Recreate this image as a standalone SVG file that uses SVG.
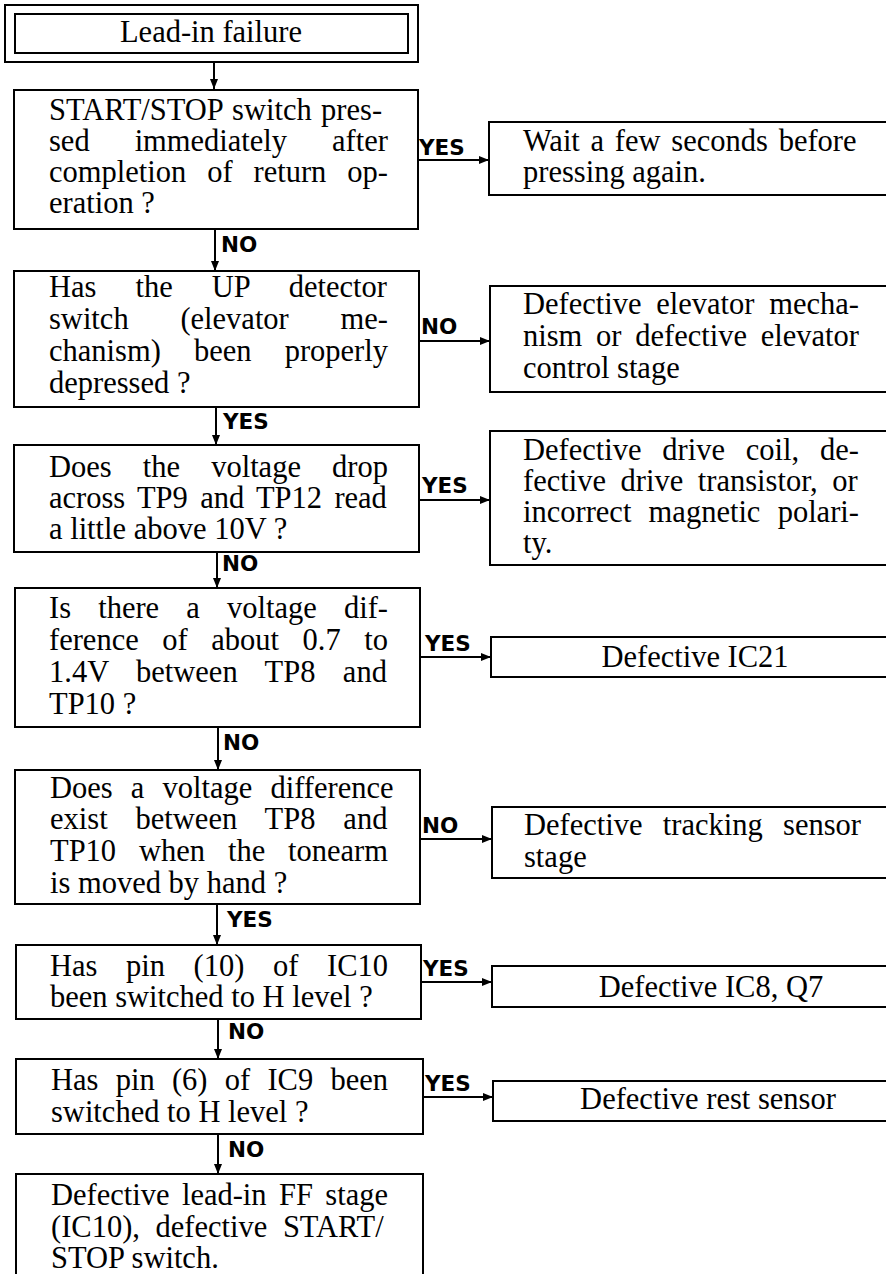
<svg xmlns="http://www.w3.org/2000/svg" width="886" height="1274" viewBox="0 0 886 1274">
<style>
.box{fill:#fff;stroke:#000;stroke-width:2}
.t{font-family:"Liberation Serif","Times New Roman",serif;font-size:30.5px;fill:#000}
.m{text-anchor:middle}
.lbl{font-family:"DejaVu Sans","Liberation Sans",sans-serif;font-weight:bold;font-size:21.5px;fill:#000}
.c{fill:none;stroke:#000;stroke-width:2}
</style>
<defs>
<marker id="ah" viewBox="0 0 10 8" refX="10" refY="4" markerWidth="10" markerHeight="8" markerUnits="userSpaceOnUse" orient="auto">
<path d="M0,0 L10,4 L0,8 z" fill="#000"/>
</marker>
</defs>
<rect width="886" height="1274" fill="#fff"/>

<g id="connectors">
<line class="c" x1="214" y1="62" x2="214" y2="89" marker-end="url(#ah)"/>
<line class="c" x1="418" y1="160" x2="489" y2="160" marker-end="url(#ah)"/>
<line class="c" x1="215" y1="229" x2="215" y2="271" marker-end="url(#ah)"/>
<line class="c" x1="419" y1="341" x2="490" y2="341" marker-end="url(#ah)"/>
<line class="c" x1="216" y1="407" x2="216" y2="445" marker-end="url(#ah)"/>
<line class="c" x1="419" y1="500" x2="490" y2="500" marker-end="url(#ah)"/>
<line class="c" x1="217" y1="552" x2="217" y2="588" marker-end="url(#ah)"/>
<line class="c" x1="420" y1="657" x2="491" y2="657" marker-end="url(#ah)"/>
<line class="c" x1="218" y1="727" x2="218" y2="770" marker-end="url(#ah)"/>
<line class="c" x1="420" y1="839" x2="492" y2="839" marker-end="url(#ah)"/>
<line class="c" x1="217" y1="904" x2="217" y2="945" marker-end="url(#ah)"/>
<line class="c" x1="421" y1="982" x2="492" y2="982" marker-end="url(#ah)"/>
<line class="c" x1="218" y1="1019" x2="218" y2="1059" marker-end="url(#ah)"/>
<line class="c" x1="423" y1="1097" x2="493" y2="1097" marker-end="url(#ah)"/>
<line class="c" x1="218" y1="1134" x2="218" y2="1174" marker-end="url(#ah)"/>
<text class="lbl" x="419" y="155">YES</text>
<text class="lbl" x="221" y="252">NO</text>
<text class="lbl" x="421" y="334">NO</text>
<text class="lbl" x="223" y="429">YES</text>
<text class="lbl" x="422" y="493">YES</text>
<text class="lbl" x="222" y="571">NO</text>
<text class="lbl" x="425" y="651">YES</text>
<text class="lbl" x="223" y="750">NO</text>
<text class="lbl" x="422" y="833">NO</text>
<text class="lbl" x="227" y="927">YES</text>
<text class="lbl" x="423" y="976">YES</text>
<text class="lbl" x="228" y="1039">NO</text>
<text class="lbl" x="425" y="1091">YES</text>
<text class="lbl" x="228" y="1157">NO</text>
</g>

<g id="start">
<rect class="box" x="5" y="5" width="413" height="57"/>
<rect class="box" x="15" y="14" width="393" height="39"/>
<text class="t m" x="211" y="42">Lead-in failure</text>
</g>

<g id="q1">
<rect class="box" x="14" y="90" width="404" height="139"/>
<text class="t" x="49" y="120" style="word-spacing:1.75px">START/STOP switch pres-</text>
<text class="t" x="49" y="151" style="word-spacing:37.36px">sed immediately after</text>
<text class="t" x="49" y="182" style="word-spacing:13.33px">completion of return op-</text>
<text class="t" x="49" y="213">eration ?</text>
</g>

<g id="r1">
<rect class="box" x="489" y="122" width="420" height="73"/>
<text class="t" x="523" y="151" style="word-spacing:3.12px">Wait a few seconds before</text>
<text class="t" x="523" y="182">pressing again.</text>
</g>

<g id="q2">
<rect class="box" x="14" y="271" width="405" height="136"/>
<text class="t" x="49" y="297" style="word-spacing:31.4px">Has the UP detector</text>
<text class="t" x="49" y="329" style="word-spacing:44.14px">switch (elevator me-</text>
<text class="t" x="49" y="361" style="word-spacing:25.51px">chanism) been properly</text>
<text class="t" x="49" y="393">depressed ?</text>
</g>

<g id="r2">
<rect class="box" x="490" y="286" width="420" height="106"/>
<text class="t" x="523" y="314" style="word-spacing:7.1px">Defective elevator mecha-</text>
<text class="t" x="523" y="346" style="word-spacing:6.12px">nism or defective elevator</text>
<text class="t" x="523" y="378">control stage</text>
</g>

<g id="q3">
<rect class="box" x="14" y="445" width="405" height="107"/>
<text class="t" x="49" y="477" style="word-spacing:23.49px">Does the voltage drop</text>
<text class="t" x="49" y="508" style="word-spacing:4.7px">across TP9 and TP12 read</text>
<text class="t" x="49" y="539">a little above 10V ?</text>
</g>

<g id="r3">
<rect class="box" x="490" y="431" width="420" height="134"/>
<text class="t" x="523" y="460" style="word-spacing:13.19px">Defective drive coil, de-</text>
<text class="t" x="523" y="491" style="word-spacing:6.97px">fective drive transistor, or</text>
<text class="t" x="523" y="522" style="word-spacing:9.62px">incorrect magnetic polari-</text>
<text class="t" x="523" y="553">ty.</text>
</g>

<g id="q4">
<rect class="box" x="15" y="588" width="405" height="139"/>
<text class="t" x="49" y="618" style="word-spacing:19.53px">Is there a voltage dif-</text>
<text class="t" x="49" y="650" style="word-spacing:15.93px">ference of about 0.7 to</text>
<text class="t" x="49" y="682" style="word-spacing:19.82px">1.4V between TP8 and</text>
<text class="t" x="49" y="714">TP10 ?</text>
</g>

<g id="r4">
<rect class="box" x="491" y="637" width="420" height="40"/>
<text class="t m" x="695" y="667">Defective IC21</text>
</g>

<g id="q5">
<rect class="box" x="15" y="770" width="405" height="134"/>
<text class="t" x="50" y="798" style="word-spacing:10.53px">Does a voltage difference</text>
<text class="t" x="50" y="829" style="word-spacing:20.33px">exist between TP8 and</text>
<text class="t" x="50" y="861" style="word-spacing:15.25px">TP10 when the tonearm</text>
<text class="t" x="50" y="893">is moved by hand ?</text>
</g>

<g id="r5">
<rect class="box" x="492" y="807" width="420" height="71"/>
<text class="t" x="524" y="835" style="word-spacing:12.66px">Defective tracking sensor</text>
<text class="t" x="524" y="867">stage</text>
</g>

<g id="q6">
<rect class="box" x="16" y="945" width="405" height="74"/>
<text class="t" x="50" y="976" style="word-spacing:20.97px">Has pin (10) of IC10</text>
<text class="t" x="50" y="1007">been switched to H level ?</text>
</g>

<g id="r6">
<rect class="box" x="492" y="966" width="420" height="41"/>
<text class="t m" x="711" y="997">Defective IC8, Q7</text>
</g>

<g id="q7">
<rect class="box" x="16" y="1059" width="407" height="75"/>
<text class="t" x="51" y="1090" style="word-spacing:9.63px">Has pin (6) of IC9 been</text>
<text class="t" x="51" y="1122">switched to H level ?</text>
</g>

<g id="r7">
<rect class="box" x="493" y="1081" width="420" height="40"/>
<text class="t m" x="708" y="1109">Defective rest sensor</text>
</g>

<g id="end">
<rect class="box" x="16" y="1174" width="407" height="120"/>
<text class="t" x="51" y="1205" style="word-spacing:4.76px">Defective lead-in FF stage</text>
<text class="t" x="51" y="1237" style="word-spacing:7.98px">(IC10), defective START/</text>
<text class="t" x="51" y="1268">STOP switch.</text>
</g>
</svg>
